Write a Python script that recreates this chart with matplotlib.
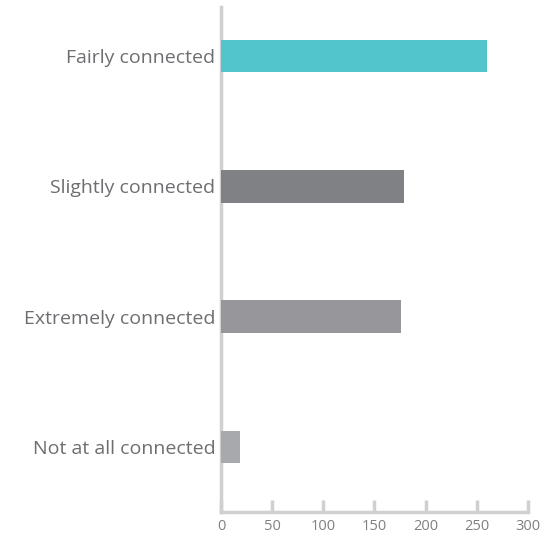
import matplotlib
matplotlib.use("Agg")
import matplotlib.pyplot as plt

# data
categories = ["Not at all connected", "Extremely connected", "Slightly connected", "Fairly connected"]
values = [19, 176, 179, 260]
colors = ["#a7a9ac", "#97979b", "#808184", "#52c4cc"]
xticks = [0, 50, 100, 150, 200, 250, 300]

plt.rcParams['font.family'] = ['Open Sans', 'DejaVu Sans']

fig = plt.figure(figsize=(5.5, 5.37), dpi=100)
ax = fig.add_axes([0.4018, 0.0466, 0.5582, 0.9404])

ax.barh(range(len(categories)), values, height=0.25, color=colors, zorder=3)

ax.set_xlim(0, 300)
ax.set_ylim(-0.5, 3.376)
ax.set_xticks(xticks)
ax.set_xticklabels([str(t) for t in xticks])
ax.set_yticks(range(len(categories)))
ax.set_yticklabels(categories)

for s in ["top", "right"]:
    ax.spines[s].set_visible(False)
for s in ["left", "bottom"]:
    ax.spines[s].set_color("#d0d0d0")
    ax.spines[s].set_linewidth(2.5)

ax.tick_params(axis="x", direction="in", length=9, width=2.5, color="#d0d0d0",
               labelsize=10.5, labelcolor="#808080", pad=5)
ax.tick_params(axis="y", length=0, labelsize=14, labelcolor="#6d6e71", pad=4)

fig.savefig("out.png", dpi=100)
